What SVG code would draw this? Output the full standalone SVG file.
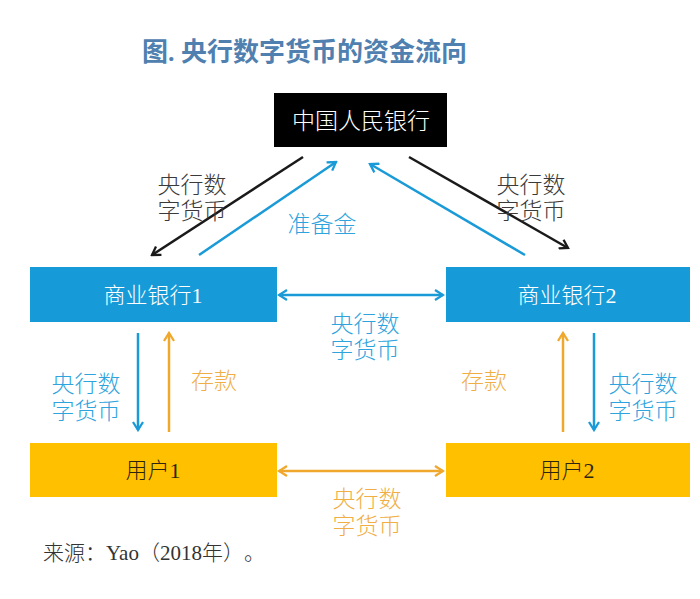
<svg xmlns="http://www.w3.org/2000/svg" width="700" height="599" viewBox="0 0 700 599">
<style>
text{font-family:"Liberation Serif","Noto Sans CJK SC",serif;}
.title{font-size:26px;font-weight:bold;fill:#4F80AF;}
.box-text{font-size:22px;text-anchor:middle;font-weight:300;}
.lbl{font-size:23px;text-anchor:middle;font-weight:300;}
.lbl-black{fill:#3A3A3A;}
.lbl-blue{fill:#2EA3DD;}
.lbl-orange{fill:#F0AE45;}
.ln{fill:none;stroke-width:2.5;}
.ln-black{stroke:#1A1A1A;}
.ln-blue{stroke:#1A9AD6;}
.ln-orange{stroke:#EFA82C;}
.src{font-size:21px;fill:#333333;font-weight:300;text-spacing-trim:space-all;}
</style>
<defs>
<marker id="ah-black" viewBox="0 0 12 12" refX="10" refY="6" markerWidth="12" markerHeight="12" markerUnits="userSpaceOnUse" orient="auto-start-reverse"><path d="M2,1 L10,6 L2,11" fill="none" stroke="#1A1A1A" stroke-width="2.3"/></marker>
<marker id="ah-blue" viewBox="0 0 12 12" refX="10" refY="6" markerWidth="12" markerHeight="12" markerUnits="userSpaceOnUse" orient="auto-start-reverse"><path d="M2,1 L10,6 L2,11" fill="none" stroke="#1A9AD6" stroke-width="2.3"/></marker>
<marker id="ah-orange" viewBox="0 0 12 12" refX="10" refY="6" markerWidth="12" markerHeight="12" markerUnits="userSpaceOnUse" orient="auto-start-reverse"><path d="M2,1 L10,6 L2,11" fill="none" stroke="#EFA82C" stroke-width="2.3"/></marker>
</defs>
<rect width="700" height="599" fill="#ffffff"/>
<text class="title" x="142" y="61">图. 央行数字货币的资金流向</text>

<g id="pboc">
<rect x="274" y="93" width="173" height="54" fill="#000000"/>
<text class="box-text" x="361" y="129" fill="#ffffff" style="font-size:23px">中国人民银行</text>
</g>
<g id="bank1">
<rect x="30" y="267" width="247" height="55" fill="#169BD8"/>
<text class="box-text" x="153" y="303" fill="#ffffff">商业银行1</text>
</g>
<g id="bank2">
<rect x="446" y="267" width="244" height="55" fill="#169BD8"/>
<text class="box-text" x="567" y="303" fill="#ffffff">商业银行2</text>
</g>
<g id="user1">
<rect x="30" y="443" width="247" height="54" fill="#FFC000"/>
<text class="box-text" x="153" y="478" fill="#2E2510">用户1</text>
</g>
<g id="user2">
<rect x="446" y="443" width="244" height="54" fill="#FFC000"/>
<text class="box-text" x="567" y="478" fill="#2E2510">用户2</text>
</g>

<g id="connectors">
<line class="ln ln-black" x1="303" y1="157" x2="152" y2="255" marker-end="url(#ah-black)"/>
<line class="ln ln-blue" x1="199" y1="255" x2="336" y2="162" marker-end="url(#ah-blue)"/>
<line class="ln ln-blue" x1="525" y1="255" x2="370" y2="164" marker-end="url(#ah-blue)"/>
<line class="ln ln-black" x1="409" y1="157" x2="568" y2="248" marker-end="url(#ah-black)"/>
<line class="ln ln-blue" x1="279" y1="295" x2="443" y2="295" marker-start="url(#ah-blue)" marker-end="url(#ah-blue)"/>
<line class="ln ln-blue" x1="138" y1="333" x2="138" y2="430" marker-end="url(#ah-blue)"/>
<line class="ln ln-orange" x1="169" y1="432" x2="169" y2="333" marker-end="url(#ah-orange)"/>
<line class="ln ln-orange" x1="563" y1="432" x2="563" y2="333" marker-end="url(#ah-orange)"/>
<line class="ln ln-blue" x1="594" y1="333" x2="594" y2="430" marker-end="url(#ah-blue)"/>
<line class="ln ln-orange" x1="279" y1="471" x2="443" y2="471" marker-start="url(#ah-orange)" marker-end="url(#ah-orange)"/>
</g>

<g id="labels">
<text class="lbl lbl-black" x="192" y="193">央行数</text>
<text class="lbl lbl-black" x="192" y="219">字货币</text>
<text class="lbl lbl-blue" x="322" y="232">准备金</text>
<text class="lbl lbl-black" x="531" y="193">央行数</text>
<text class="lbl lbl-black" x="531" y="219">字货币</text>
<text class="lbl lbl-blue" x="365" y="332">央行数</text>
<text class="lbl lbl-blue" x="365" y="358">字货币</text>
<text class="lbl lbl-blue" x="86" y="392">央行数</text>
<text class="lbl lbl-blue" x="86" y="419">字货币</text>
<text class="lbl lbl-orange" x="214" y="389">存款</text>
<text class="lbl lbl-orange" x="484" y="389">存款</text>
<text class="lbl lbl-blue" x="643" y="392">央行数</text>
<text class="lbl lbl-blue" x="643" y="419">字货币</text>
<text class="lbl lbl-orange" x="367" y="507">央行数</text>
<text class="lbl lbl-orange" x="367" y="534">字货币</text>
</g>
<text class="src" x="43" y="560">来源：Yao（2018年）。</text>
</svg>
